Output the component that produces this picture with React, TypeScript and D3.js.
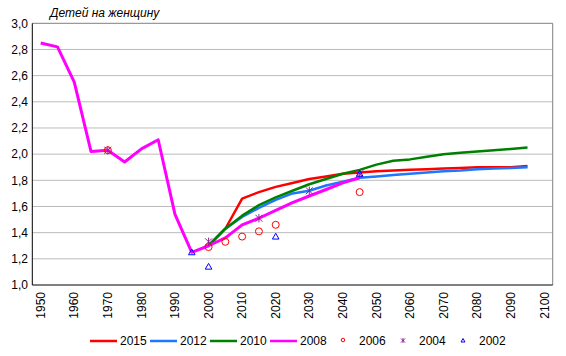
import React from "react";
import * as d3 from "d3";

const years: number[] = d3.range(1950, 2101, 5);
const histYears = [1950, 1955, 1960, 1965, 1970, 1975, 1980, 1985, 1990, 1995];
const histValues = [2.85, 2.82, 2.55, 2.02, 2.03, 1.94, 2.04, 2.11, 1.54, 1.25];

const projYears = [2000, 2005, 2010, 2015, 2020, 2025, 2030, 2035, 2040, 2045, 2050, 2055, 2060, 2065, 2070, 2075, 2080, 2085, 2090, 2095];
const v2015 = [1.30, 1.43, 1.66, 1.71, 1.75, 1.78, 1.81, 1.83, 1.85, 1.86, 1.87, 1.875, 1.88, 1.885, 1.89, 1.895, 1.90, 1.90, 1.90, 1.91];
const v2012 = [1.30, 1.43, 1.52, 1.59, 1.65, 1.70, 1.72, 1.76, 1.79, 1.82, 1.83, 1.84, 1.85, 1.86, 1.87, 1.875, 1.885, 1.89, 1.895, 1.90];
const v2010 = [1.30, 1.43, 1.53, 1.61, 1.67, 1.72, 1.77, 1.81, 1.85, 1.88, 1.92, 1.95, 1.96, 1.98, 2.00, 2.01, 2.02, 2.03, 2.04, 2.05];
const y2008 = [2000, 2005, 2010, 2015, 2020, 2025, 2030, 2035, 2040, 2045];
const v2008 = [1.30, 1.36, 1.46, 1.51, 1.57, 1.63, 1.68, 1.73, 1.78, 1.82];

const y2006 = [1970, 2000, 2005, 2010, 2015, 2020, 2045];
const v2006 = [2.03, 1.29, 1.33, 1.37, 1.41, 1.46, 1.71];
const y2004 = [1970, 2000, 2015, 2030, 2045];
const v2004 = [2.03, 1.33, 1.51, 1.72, 1.85];
const y2002 = [1995, 2000, 2020, 2045];
const v2002 = [1.25, 1.14, 1.37, 1.85];

const yTicks = [1.0, 1.2, 1.4, 1.6, 1.8, 2.0, 2.2, 2.4, 2.6, 2.8, 3.0];
const legendLabels = ["2015", "2012", "2010", "2008", "2006", "2004", "2002"];
const title = "Детей на женщину";

const W = 566, H = 356;
const L = 32.3, R = 552.7, T = 23.3, B = 285;
const FONT = "'Liberation Sans', Arial, sans-serif";

export default function App() {
  const x = d3.scalePoint<number>().domain(years).range([L, R]).padding(0.5);
  const y = d3.scaleLinear().domain([1, 3]).range([B, T]);
  const line = d3.line<[number, number]>().x(d => x(d[0])!).y(d => y(d[1]));
  const zip = (a: number[], b: number[]) => a.map((v, i) => [v, b[i]] as [number, number]);

  const lines = [
    { c: "#FF0000", d: zip(projYears, v2015), w: 2.5 },
    { c: "#1E78FF", d: zip(projYears, v2012), w: 2.5 },
    { c: "#008000", d: zip(projYears, v2010), w: 2.5 },
    { c: "#FF00FF", d: zip(histYears.concat(y2008), histValues.concat(v2008)), w: 3 },
  ];

  const circle = (cx: number, cy: number, r: number, k: string) => (
    <circle key={k} cx={cx} cy={cy} r={r} fill="none" stroke="#FF0000" strokeWidth={1} />
  );
  const star = (cx: number, cy: number, s: number, k: string) => (
    <path key={k} d={`M${cx - s},${cy - s}L${cx + s},${cy + s}M${cx - s},${cy + s}L${cx + s},${cy - s}M${cx},${cy - s * 1.2}L${cx},${cy + s * 1.2}`} stroke="#9A1A9A" strokeWidth={1} fill="none" />
  );
  const tri = (cx: number, cy: number, s: number, k: string) => (
    <path key={k} d={`M${cx},${cy - s}L${cx + s},${cy + s * 0.75}L${cx - s},${cy + s * 0.75}Z`} stroke="#0000FF" strokeWidth={1} fill="none" />
  );

  const legY = 341;
  const legX = [90, 150, 210, 270];

  return (
    <svg width={W} height={H} style={{ position: "absolute", left: 0, top: 0, fontFamily: FONT }}>
      <rect width={W} height={H} fill="#fff" />
      {yTicks.map(t => (
        <g key={t}>
          {t > 1 && t < 3 && <line x1={L} x2={R} y1={y(t)} y2={y(t)} stroke="#BBBBBB" strokeWidth={1} />}
          <text x={28} y={y(t)} dy="0.35em" textAnchor="end" fontSize={12}>{t.toFixed(1).replace(".", ",")}</text>
        </g>
      ))}
      <line x1={L} x2={R} y1={T} y2={T} stroke="#808080" strokeWidth={1} />
      <line x1={R} x2={R} y1={T} y2={B} stroke="#808080" strokeWidth={1} />
      <line x1={L} x2={L} y1={T} y2={B} stroke="#000" strokeWidth={1} />
      <line x1={L} x2={R} y1={B} y2={B} stroke="#000" strokeWidth={1} />
      {years.filter(yr => yr % 10 === 0).map(yr => (
        <text key={yr} transform={`translate(${x(yr)},292) rotate(-90)`} textAnchor="end" dy="0.35em" fontSize={12}>{yr}</text>
      ))}
      <text x={50} y={17} fontSize={12} fontStyle="italic">{title}</text>
      {lines.map((l, i) => (
        <path key={i} d={line(l.d)!} fill="none" stroke={l.c} strokeWidth={l.w} strokeLinejoin="round" />
      ))}
      {zip(y2006, v2006).map((p, i) => circle(x(p[0])!, y(p[1]), 3.5, "c" + i))}
      {zip(y2004, v2004).map((p, i) => star(x(p[0])!, y(p[1]), 3.5, "s" + i))}
      {zip(y2002, v2002).map((p, i) => tri(x(p[0])!, y(p[1]), 3.3, "t" + i))}
      {lines.map((l, i) => (
        <g key={"lg" + i}>
          <line x1={legX[i]} x2={legX[i] + 27} y1={legY} y2={legY} stroke={l.c} strokeWidth={2.5} />
          <text x={legX[i] + 30} y={legY} dy="0.35em" fontSize={12}>{legendLabels[i]}</text>
        </g>
      ))}
      {circle(343, legY - 1, 1.8, "lc")}
      <text x={359} y={legY} dy="0.35em" fontSize={12}>{legendLabels[4]}</text>
      {star(403, legY - 0.5, 2, "ls")}
      <text x={419} y={legY} dy="0.35em" fontSize={12}>{legendLabels[5]}</text>
      {tri(463, legY - 0.5, 2, "lt")}
      <text x={479} y={legY} dy="0.35em" fontSize={12}>{legendLabels[6]}</text>
    </svg>
  );
}
